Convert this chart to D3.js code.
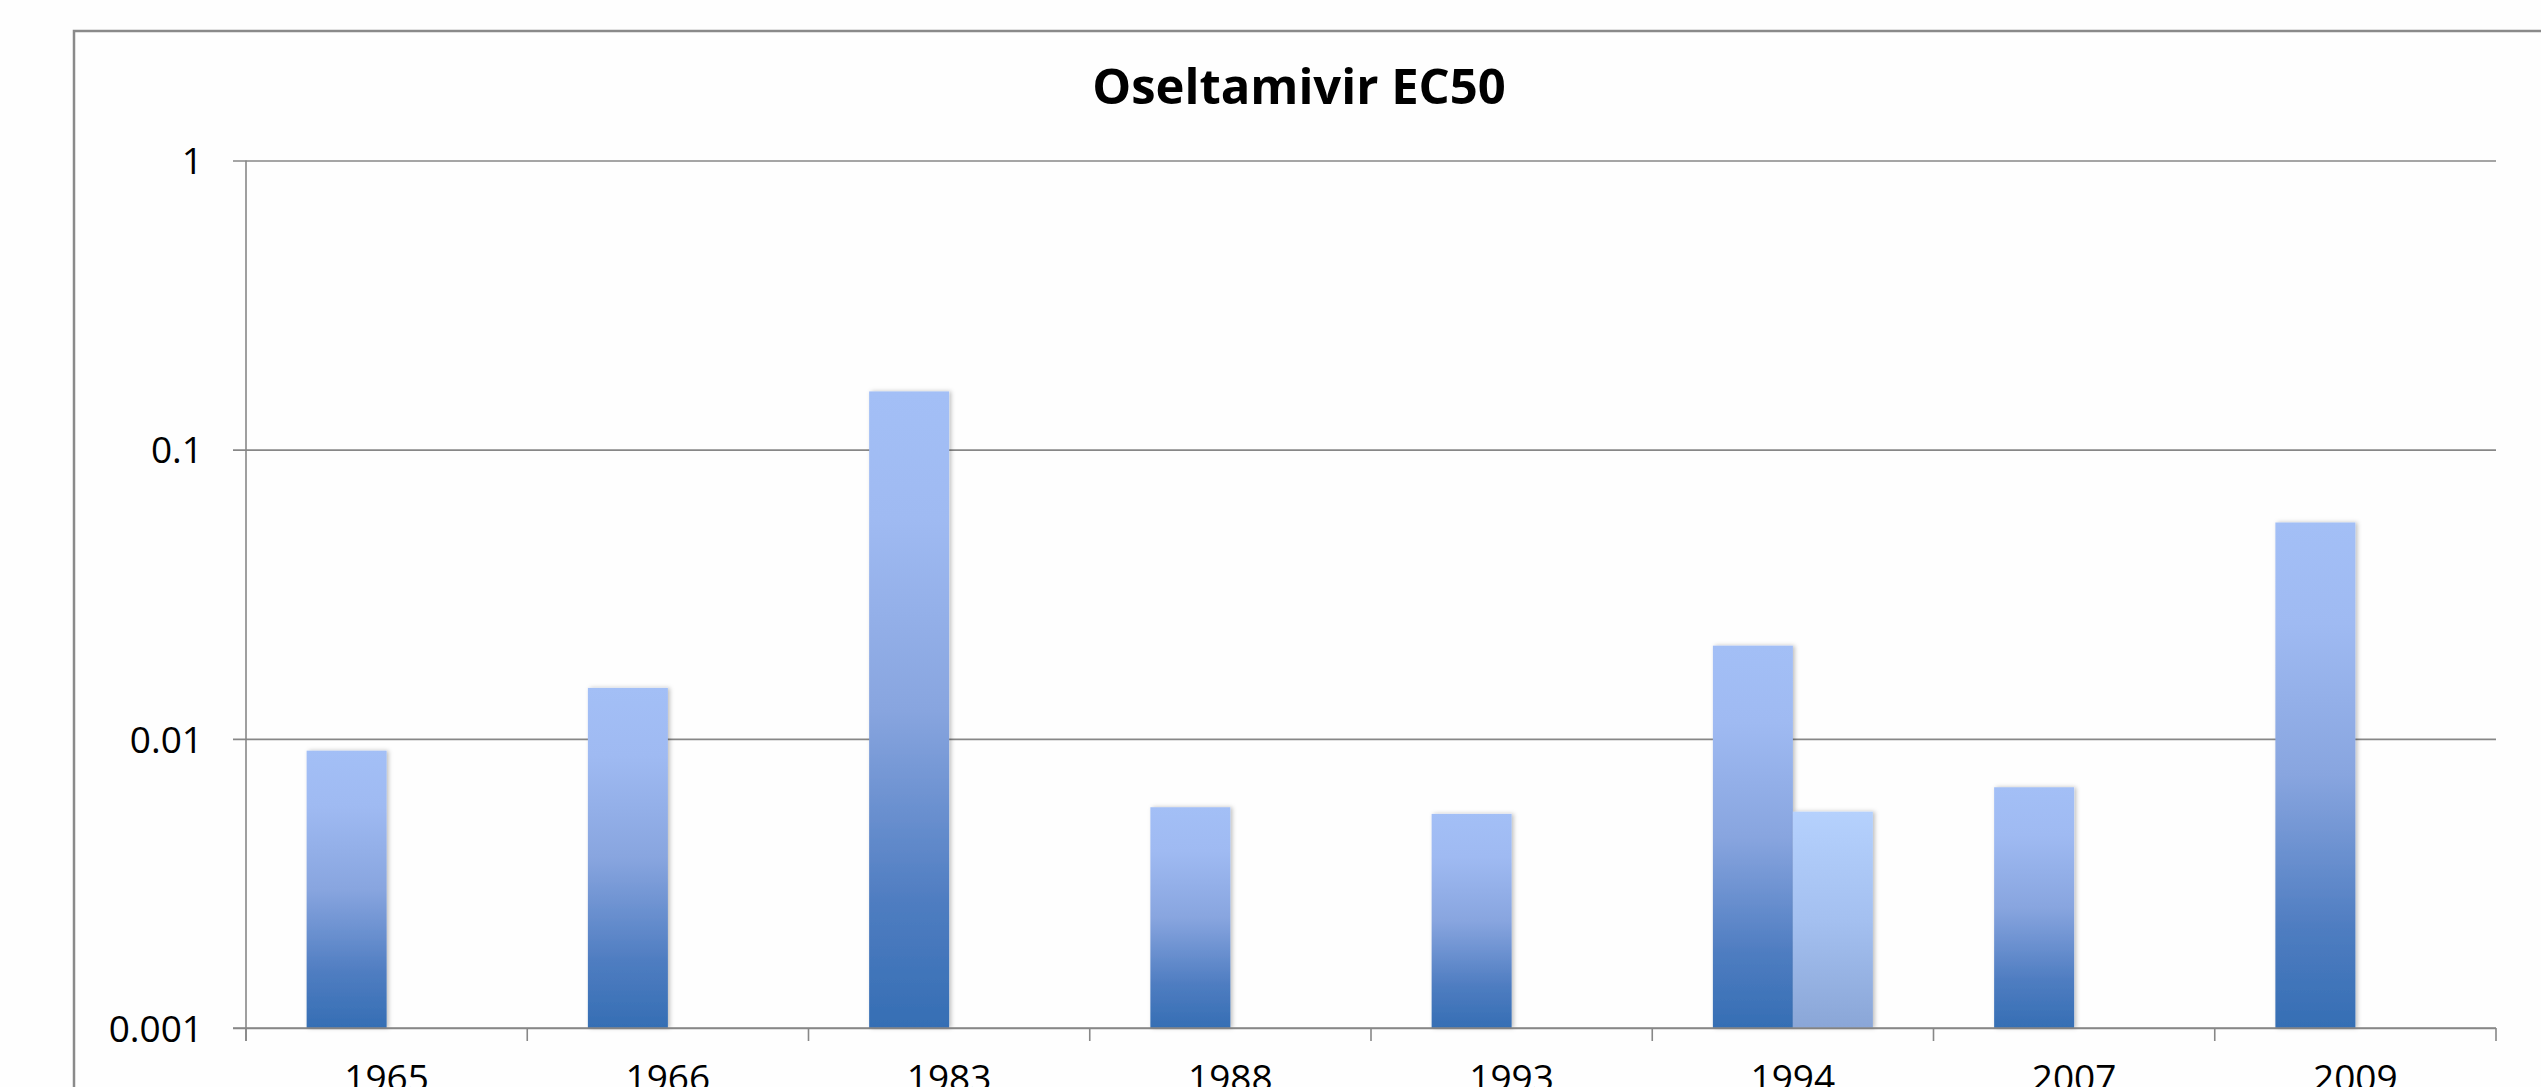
<!DOCTYPE html>
<html>
<head>
<meta charset="utf-8">
<script src="https://cdn.jsdelivr.net/npm/d3@7"></script>
<style>
  html, body { margin: 0; padding: 0; background: #fff; }
  svg { display: block; }
  text { font-family: "Open Sans", "Liberation Sans", sans-serif; }
</style>
</head>
<body>
<svg id="chart" width="2541" height="1087"></svg>
<script>
const chartTitle = "Oseltamivir EC50";
const categories = ["1965", "1966", "1983", "1988", "1993", "1994", "2007", "2009"];
const seriesNames = ["A", "B"];
const seriesA = [0.0091, 0.0150, 0.159, 0.0058, 0.0055, 0.021, 0.0068, 0.056];
const seriesB = [null, null, null, null, null, 0.0056, null, null];
const yTickValues = [0.001, 0.01, 0.1, 1];
const yTickLabels = ["0.001", "0.01", "0.1", "1"];

const svg = d3.select("#chart");
const W = 2541, H = 1087;
const plot = { left: 246, right: 2496, top: 160.5, bottom: 1028 };
const gridColor = "#878787";

svg.append("rect").attr("width", W).attr("height", H).attr("fill", "#fefefe");

// outer chart border (extends beyond the frame on right/bottom)
svg.append("rect")
  .attr("x", 74).attr("y", 31)
  .attr("width", W + 20).attr("height", H + 20)
  .attr("fill", "none").attr("stroke", "#8a8a8a").attr("stroke-width", 2.5);

const defs = svg.append("defs");
function grad(id, stops) {
  const g = defs.append("linearGradient").attr("id", id)
    .attr("x1", 0).attr("y1", 0).attr("x2", 0).attr("y2", 1);
  stops.forEach(s => g.append("stop").attr("offset", s[0]).attr("stop-color", s[1]));
}
grad("gA", [[0, "#a3bff6"], [0.2, "#9fbaf2"], [0.5, "#88a5df"], [0.8, "#4f7dc1"], [1, "#356eb4"]]);
grad("gB", [[0, "#b5d1fd"], [0.5, "#a4c0f0"], [1, "#8aa6d7"]]);
const f = defs.append("filter").attr("id", "sh").attr("x", "-20%").attr("y", "-5%").attr("width", "140%").attr("height", "110%");
f.append("feDropShadow").attr("dx", 2).attr("dy", 0).attr("stdDeviation", 2)
  .attr("flood-color", "#000").attr("flood-opacity", 0.25);

const x0 = d3.scaleBand().domain(categories).range([plot.left, plot.right]).padding(0);
const x1 = d3.scaleBand().domain(seriesNames).range([0, x0.bandwidth()]).paddingInner(0).paddingOuter(0.758);
const y = d3.scaleLog().domain([0.001, 1]).range([plot.bottom, plot.top]);

// gridlines + left ticks
const yAxis = d3.axisLeft(y).tickValues(yTickValues)
  .tickSize(-(plot.right - plot.left)).tickSizeOuter(0)
  .tickFormat((d, i) => yTickLabels[i]);
const gy = svg.append("g").attr("transform", `translate(${plot.left},0)`).call(yAxis);
gy.select(".domain").remove();
gy.selectAll(".tick line").attr("stroke", gridColor).attr("stroke-width", 1.6)
  .attr("x1", -13);
gy.selectAll(".tick text")
  .attr("x", -43).attr("dy", "0.36em")
  .attr("fill", "#000").attr("font-size", 37).attr("font-family", "Open Sans");

// bars
const rows = categories.map((c, i) => ({ c, vals: [seriesA[i], seriesB[i]] }));
const groups = svg.append("g").selectAll("g").data(rows).join("g")
  .attr("transform", d => `translate(${x0(d.c)},0)`);
groups.selectAll("rect")
  .data(d => d.vals.map((v, j) => ({ v, s: seriesNames[j] })).filter(e => e.v != null))
  .join("rect")
  .attr("x", d => x1(d.s))
  .attr("width", x1.bandwidth())
  .attr("y", d => y(d.v))
  .attr("height", d => plot.bottom - y(d.v))
  .attr("fill", d => d.s === "A" ? "url(#gA)" : "url(#gB)")
  .attr("filter", "url(#sh)");

// y axis line
svg.append("line")
  .attr("x1", plot.left).attr("x2", plot.left)
  .attr("y1", plot.top).attr("y2", plot.bottom + 13)
  .attr("stroke", gridColor).attr("stroke-width", 1.6);

// x axis
const xAxis = d3.axisBottom(x0).tickSize(0).tickSizeOuter(0);
const gx = svg.append("g").attr("transform", `translate(0,${plot.bottom})`).call(xAxis);
gx.select(".domain").attr("stroke", gridColor).attr("stroke-width", 1.6)
  .attr("d", `M${plot.left - 13},0H${plot.right}`);
gx.selectAll(".tick text")
  .attr("y", 63).attr("dy", 0)
  .attr("fill", "#000").attr("font-size", 37).attr("font-family", "Open Sans");
// category boundary tick marks
const bounds = categories.map(c => x0(c)).concat([plot.right]);
gx.selectAll("line.bound").data(bounds).join("line").attr("class", "bound")
  .attr("x1", d => d).attr("x2", d => d).attr("y1", 0).attr("y2", 13)
  .attr("stroke", gridColor).attr("stroke-width", 1.6);

// title
svg.append("text")
  .attr("x", 1299).attr("y", 104)
  .attr("text-anchor", "middle")
  .attr("font-size", 49).attr("font-weight", "bold")
  .attr("fill", "#000")
  .text(chartTitle);
</script>
</body>
</html>
